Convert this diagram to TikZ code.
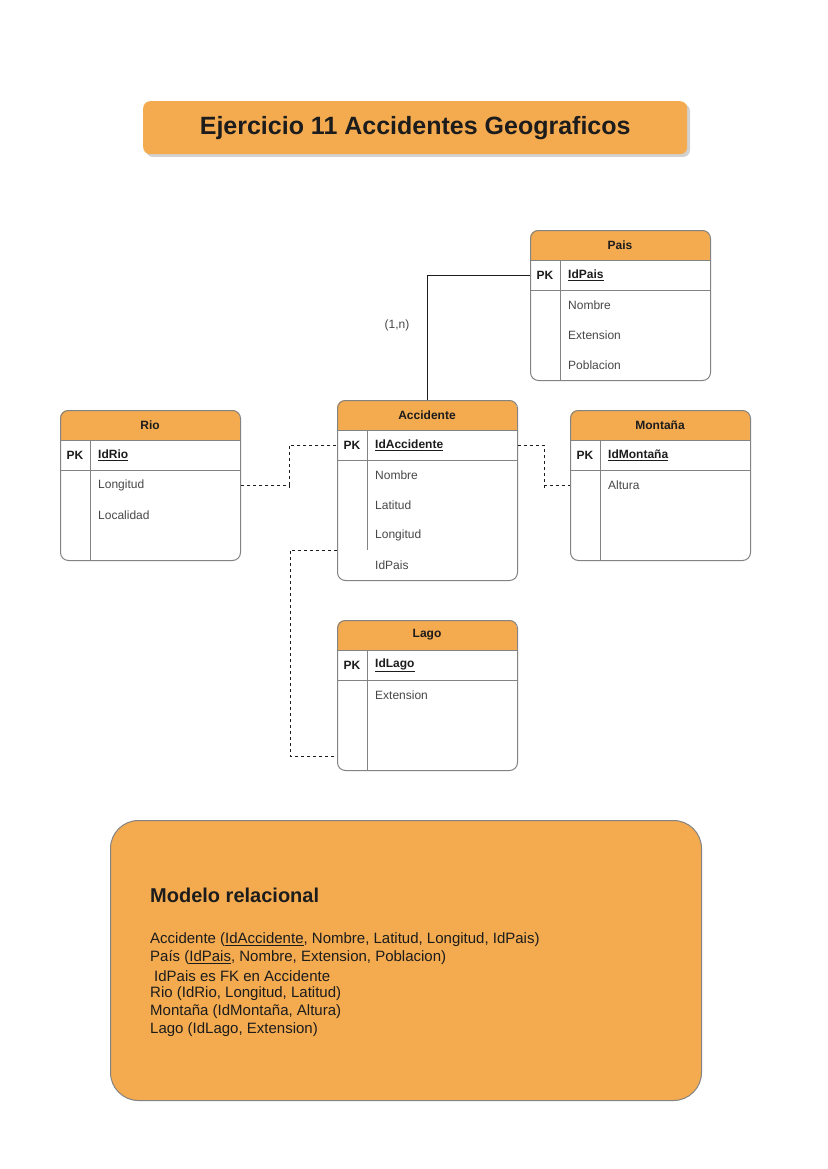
\documentclass[tikz,border=0pt]{standalone}
\usepackage{fontspec}
\setmainfont{Liberation Sans}
\usetikzlibrary{calc}
\definecolor{org}{HTML}{F4AB50}
\definecolor{bord}{HTML}{838383}
\definecolor{ftxt}{HTML}{474747}
\definecolor{dtxt}{HTML}{1C1C1C}
\newcommand{\mytable}[5]{% name, x, y, height, divider bottom
  \begin{scope}
    \clip[rounded corners=8pt] (#2,#3) rectangle ++(180,#4);
    \fill[org] (#2,#3) rectangle ++(180,30);
  \end{scope}
  \node[tblbox, minimum height=#4 pt] (#1) at (#2,#3) {};
  \draw[bord, line width=1pt] (#2,#3+30) -- ++(180,0) (#2,#3+60) -- ++(180,0);
  \draw[bord, line width=1pt] (#2+30,#3+30) -- (#2+30,#5);
}
\begin{document}
\begin{tikzpicture}[x=1pt,y=-1pt,
  tblbox/.style={draw=bord, line width=1pt, rounded corners=8pt, minimum width=180pt, anchor=north west, inner sep=0pt},
  hdr/.style={font=\fontsize{12}{14}\selectfont\bfseries, text=dtxt},
  pk/.style={font=\fontsize{12}{14}\selectfont\bfseries, text=dtxt},
  idf/.style={font=\fontsize{12}{14}\selectfont\bfseries, text=dtxt, anchor=west, inner sep=0pt},
  fld/.style={font=\fontsize{12}{14}\selectfont, text=ftxt, anchor=west, inner sep=0pt},
  conn/.style={draw=dtxt, line width=1pt},
  dconn/.style={draw=dtxt, line width=1pt, dash pattern=on 3pt off 3pt},
  mline/.style={font=\fontsize{15}{18}\selectfont, text=dtxt, anchor=west, inner sep=0pt}
]
\useasboundingbox (0,0) rectangle (827,1169);

% Title
\fill[black!30, opacity=0.6, rounded corners=7pt] (146,104) rectangle (690,157);
\node[fill=org, rounded corners=7pt, minimum width=544pt, minimum height=53pt, anchor=north west, inner sep=0pt] (title) at (143,101) {};
\node[font=\fontsize{25}{29}\selectfont\bfseries, text=dtxt] (titletext) at (title.center) {Ejercicio 11 Accidentes Geograficos};

% Pais
\mytable{pais}{530}{230}{150}{380}
\node[hdr] (paisH) at (620,245) {Pais};
\node[pk] (paisPK) at (545,275) {PK};
\node[idf] (paisId) at (568,275) {\underline{IdPais}};
\node[fld] (paisNom) at (568,305) {Nombre};
\node[fld] (paisExt) at (568,335) {Extension};
\node[fld] (paisPob) at (568,365) {Poblacion};

% Accidente
\mytable{acc}{337}{400}{180}{550}
\node[hdr] (accH) at (427,415) {Accidente};
\node[pk] (accPK) at (352,445) {PK};
\node[idf] (accId) at (375,445) {\underline{IdAccidente}};
\node[fld] (accNom) at (375,475) {Nombre};
\node[fld] (accLat) at (375,505) {Latitud};
\node[fld] (accLong) at (375,535) {Longitud};
\node[fld] (accPais) at (375,565) {IdPais};

% Rio
\mytable{rio}{60}{410}{150}{560}
\node[hdr] (rioH) at (150,425) {Rio};
\node[pk] (rioPK) at (75,455) {PK};
\node[idf] (rioId) at (98,455) {\underline{IdRio}};
\node[fld] (rioLong) at (98,485) {Longitud};
\node[fld] (rioLoc) at (98,515) {Localidad};

% Montana
\mytable{mon}{570}{410}{150}{560}
\node[hdr] (monH) at (660,425) {Montaña};
\node[pk] (monPK) at (585,455) {PK};
\node[idf] (monId) at (608,455) {\underline{IdMontaña}};
\node[fld] (monAlt) at (608,485) {Altura};

% Lago
\mytable{lago}{337}{620}{150}{770}
\node[hdr] (lagoH) at (427,635) {Lago};
\node[pk] (lagoPK) at (352,665) {PK};
\node[idf] (lagoId) at (375,665) {\underline{IdLago}};
\node[fld] (lagoExt) at (375,695) {Extension};

% Connectors
\draw[conn] (pais.west |- paisId) -| (acc.north);
\node[font=\fontsize{12}{14}\selectfont, text=ftxt] (card) at (397,325) {(1,n)};
\draw[dconn] (rio.east |- rioLong) -| ($(rio.east)!0.5!(acc.west)$) |- (acc.west |- accId);
\draw[dconn] (acc.east |- accId) -| ($(acc.east)!0.5!(mon.west)$) |- (mon.west |- monAlt);
\coordinate (accLeft) at (337,550);
\draw[dconn] (accLeft) -- ++(-47,0) |- ([yshift=15pt]lago.south west);

% Modelo relacional
\node[draw=bord, line width=1pt, fill=org, rounded corners=28pt, minimum width=591pt, minimum height=280pt, anchor=north west, inner sep=0pt] (modelo) at (110,820) {};
\node[font=\fontsize{20}{24}\selectfont\bfseries, text=dtxt, anchor=west, inner sep=0pt] (mtitle) at (150,895) {Modelo relacional};
\node[mline] (m1) at (150,940) {Accidente (\underline{IdAccidente}, Nombre, Latitud, Longitud, IdPais)};
\node[mline] (m2) at (150,958) {País (\underline{IdPais}, Nombre, Extension, Poblacion)};
\node[mline] (m3) at (154,976) {IdPais es FK en Accidente};
\node[mline] (m4) at (150,994) {Rio (IdRio, Longitud, Latitud)};
\node[mline] (m5) at (150,1012) {Montaña (IdMontaña, Altura)};
\node[mline] (m6) at (150,1030) {Lago (IdLago, Extension)};
\end{tikzpicture}
\end{document}
